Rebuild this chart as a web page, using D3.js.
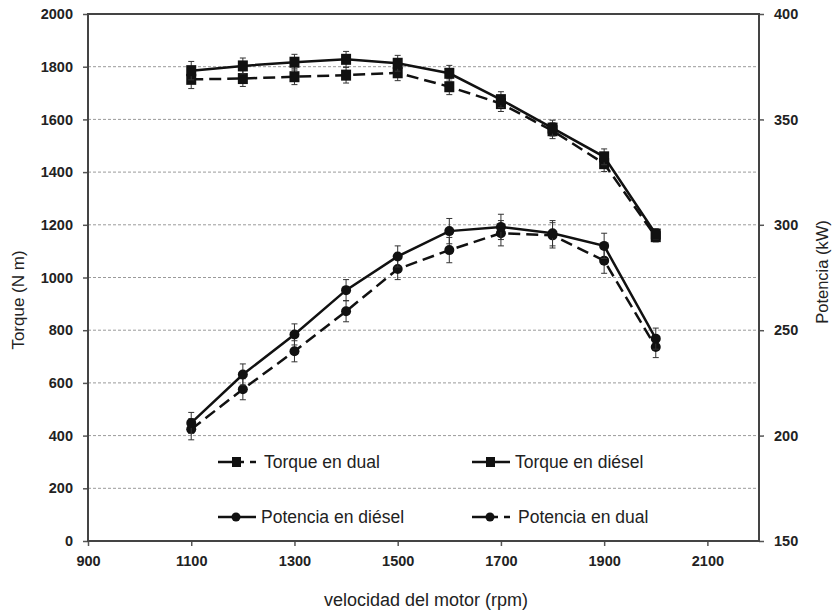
<!DOCTYPE html>
<html>
<head>
<meta charset="utf-8">
<script src="https://cdn.jsdelivr.net/npm/d3@7"></script>
<style>
  body { margin: 0; background: #fff; }
  svg { display: block; font-family: "Liberation Sans", Arial, sans-serif; }
</style>
</head>
<body>
<div id="chart"></div>
<script>
// engine speed (rpm)
var rpm = [1100, 1200, 1300, 1400, 1500, 1600, 1700, 1800, 1900, 2000];

// torque (N m), left axis
var torqueDiesel = [1785, 1803, 1817, 1828, 1813, 1775, 1675, 1567, 1458, 1165];
var torqueDual   = [1752, 1755, 1762, 1768, 1777, 1724, 1660, 1557, 1432, 1155];
var torqueErr    = [35, 30, 30, 30, 30, 30, 30, 30, 30, 20];

// power (kW), right axis
var powerDiesel = [206, 229, 248, 269, 285, 297, 299, 296, 290, 246];
var powerDual   = [203, 222, 240, 259, 279, 288, 296, 295, 283, 242];
var powerErr    = [5, 5, 5, 5, 5, 6, 6, 6, 6, 5];

var xTicks = [900, 1100, 1300, 1500, 1700, 1900, 2100];
var yLeftTicks = [0, 200, 400, 600, 800, 1000, 1200, 1400, 1600, 1800, 2000];
var yRightTicks = [150, 200, 250, 300, 350, 400];

var width = 832, height = 612,
    margin = { top: 14, right: 73, bottom: 71, left: 88 };

var svg = d3.select('#chart').append('svg')
    .attr('width', width)
    .attr('height', height);

var x = d3.scaleLinear().domain([900, 2200])
    .range([margin.left, width - margin.right]);
var yL = d3.scaleLinear().domain([0, 2000])
    .range([height - margin.bottom, margin.top]);
var yR = d3.scaleLinear().domain([150, 400])
    .range([height - margin.bottom, margin.top]);

// gridlines
svg.append('g')
    .selectAll('line')
    .data(yLeftTicks.slice(1, -1))
    .enter().append('line')
    .attr('x1', margin.left).attr('x2', width - margin.right)
    .attr('y1', d => yL(d)).attr('y2', d => yL(d))
    .attr('stroke', '#9a9a9a')
    .attr('stroke-width', 1)
    .attr('stroke-dasharray', '3,2');

// axes
var axisStyle = function(g) {
    g.select('.domain').remove();
    g.selectAll('.tick line').attr('stroke', '#555').attr('stroke-width', 1.5);
    g.selectAll('.tick text')
        .attr('font-size', 14.5)
        .attr('font-weight', 'bold')
        .attr('fill', '#222');
};

svg.append('g')
    .attr('transform', `translate(0,${height - margin.bottom})`)
    .call(d3.axisBottom(x).tickValues(xTicks).tickSize(5).tickPadding(10).tickFormat(d3.format('d')))
    .call(axisStyle);

svg.append('g')
    .attr('transform', `translate(${margin.left},0)`)
    .call(d3.axisLeft(yL).tickValues(yLeftTicks).tickSize(5).tickPadding(10).tickFormat(d3.format('d')))
    .call(axisStyle);

svg.append('g')
    .attr('transform', `translate(${width - margin.right},0)`)
    .call(d3.axisRight(yR).tickValues(yRightTicks).tickSize(5).tickPadding(10).tickFormat(d3.format('d')))
    .call(axisStyle);

// frame
svg.append('rect')
    .attr('x', margin.left).attr('y', margin.top)
    .attr('width', width - margin.left - margin.right)
    .attr('height', height - margin.top - margin.bottom)
    .attr('fill', 'none')
    .attr('stroke', '#444')
    .attr('stroke-width', 2);

// series
var series = [
    { vals: torqueDual, err: torqueErr, y: yL, dash: '12,6', mark: 'square' },
    { vals: torqueDiesel, err: torqueErr, y: yL, dash: null, mark: 'square' },
    { vals: powerDual, err: powerErr, y: yR, dash: '12,6', mark: 'circle' },
    { vals: powerDiesel, err: powerErr, y: yR, dash: null, mark: 'circle' }
];

series.forEach(function(s) {
    var g = svg.append('g');
    var pts = rpm.map((r, i) => ({ r: r, v: s.vals[i], e: s.err[i] }));

    // error bars
    var eb = g.selectAll('g.err').data(pts).enter().append('g')
        .attr('stroke', '#333').attr('stroke-width', 1);
    eb.append('line')
        .attr('x1', d => x(d.r)).attr('x2', d => x(d.r))
        .attr('y1', d => s.y(d.v - d.e)).attr('y2', d => s.y(d.v + d.e));
    eb.append('line')
        .attr('x1', d => x(d.r) - 3).attr('x2', d => x(d.r) + 3)
        .attr('y1', d => s.y(d.v - d.e)).attr('y2', d => s.y(d.v - d.e));
    eb.append('line')
        .attr('x1', d => x(d.r) - 3).attr('x2', d => x(d.r) + 3)
        .attr('y1', d => s.y(d.v + d.e)).attr('y2', d => s.y(d.v + d.e));

    var line = d3.line().x(d => x(d.r)).y(d => s.y(d.v));
    g.append('path')
        .datum(pts)
        .attr('d', line)
        .attr('fill', 'none')
        .attr('stroke', '#111')
        .attr('stroke-width', 2.5)
        .attr('stroke-dasharray', s.dash);

    if (s.mark === 'square') {
        g.selectAll('rect').data(pts).enter().append('rect')
            .attr('x', d => x(d.r) - 5).attr('y', d => s.y(d.v) - 5.5)
            .attr('width', 10).attr('height', 11)
            .attr('fill', '#111');
    } else {
        g.selectAll('circle').data(pts).enter().append('circle')
            .attr('cx', d => x(d.r)).attr('cy', d => s.y(d.v))
            .attr('r', 5)
            .attr('fill', '#111');
    }
});

// legend
var legend = [
    { label: 'Torque en dual', lx: 218, ly: 462, dash: true, mark: 'square' },
    { label: 'Torque en diésel', lx: 472, ly: 462, dash: false, mark: 'square' },
    { label: 'Potencia en diésel', lx: 218, ly: 517, dash: false, mark: 'circle' },
    { label: 'Potencia en dual', lx: 472, ly: 517, dash: true, mark: 'circle' }
];

legend.forEach(function(d) {
    var g = svg.append('g').attr('transform', `translate(${d.lx},${d.ly})`);
    if (d.dash) {
        g.append('line').attr('x1', 0).attr('x2', 26).attr('y1', 0).attr('y2', 0)
            .attr('stroke', '#111').attr('stroke-width', 2.5);
        g.append('line').attr('x1', 32).attr('x2', 38).attr('y1', 0).attr('y2', 0)
            .attr('stroke', '#111').attr('stroke-width', 2.5);
    } else {
        g.append('line').attr('x1', 0).attr('x2', 38).attr('y1', 0).attr('y2', 0)
            .attr('stroke', '#111').attr('stroke-width', 2.5);
    }
    if (d.mark === 'square') {
        g.append('rect').attr('x', 14).attr('y', -5).attr('width', 9).attr('height', 10).attr('fill', '#111');
    } else {
        g.append('circle').attr('cx', 18).attr('cy', 0).attr('r', 4.5).attr('fill', '#111');
    }
    g.append('text')
        .attr('x', d.dash ? 46 : 43).attr('y', 0)
        .attr('dy', '0.35em')
        .attr('font-size', 17.5)
        .attr('fill', '#222')
        .text(d.label);
});

// axis titles
svg.append('text')
    .attr('transform', 'translate(18,300) rotate(-90)')
    .attr('text-anchor', 'middle')
    .attr('dy', '0.35em')
    .attr('font-size', 17)
    .attr('fill', '#222')
    .text('Torque (N m)');

svg.append('text')
    .attr('transform', 'translate(822,272) rotate(-90)')
    .attr('text-anchor', 'middle')
    .attr('dy', '0.35em')
    .attr('font-size', 16.5)
    .attr('fill', '#222')
    .text('Potencia (kW)');

svg.append('text')
    .attr('x', 426).attr('y', 600)
    .attr('text-anchor', 'middle')
    .attr('dy', '0.35em')
    .attr('font-size', 18)
    .attr('fill', '#222')
    .text('velocidad del motor (rpm)');
</script>
</body>
</html>
